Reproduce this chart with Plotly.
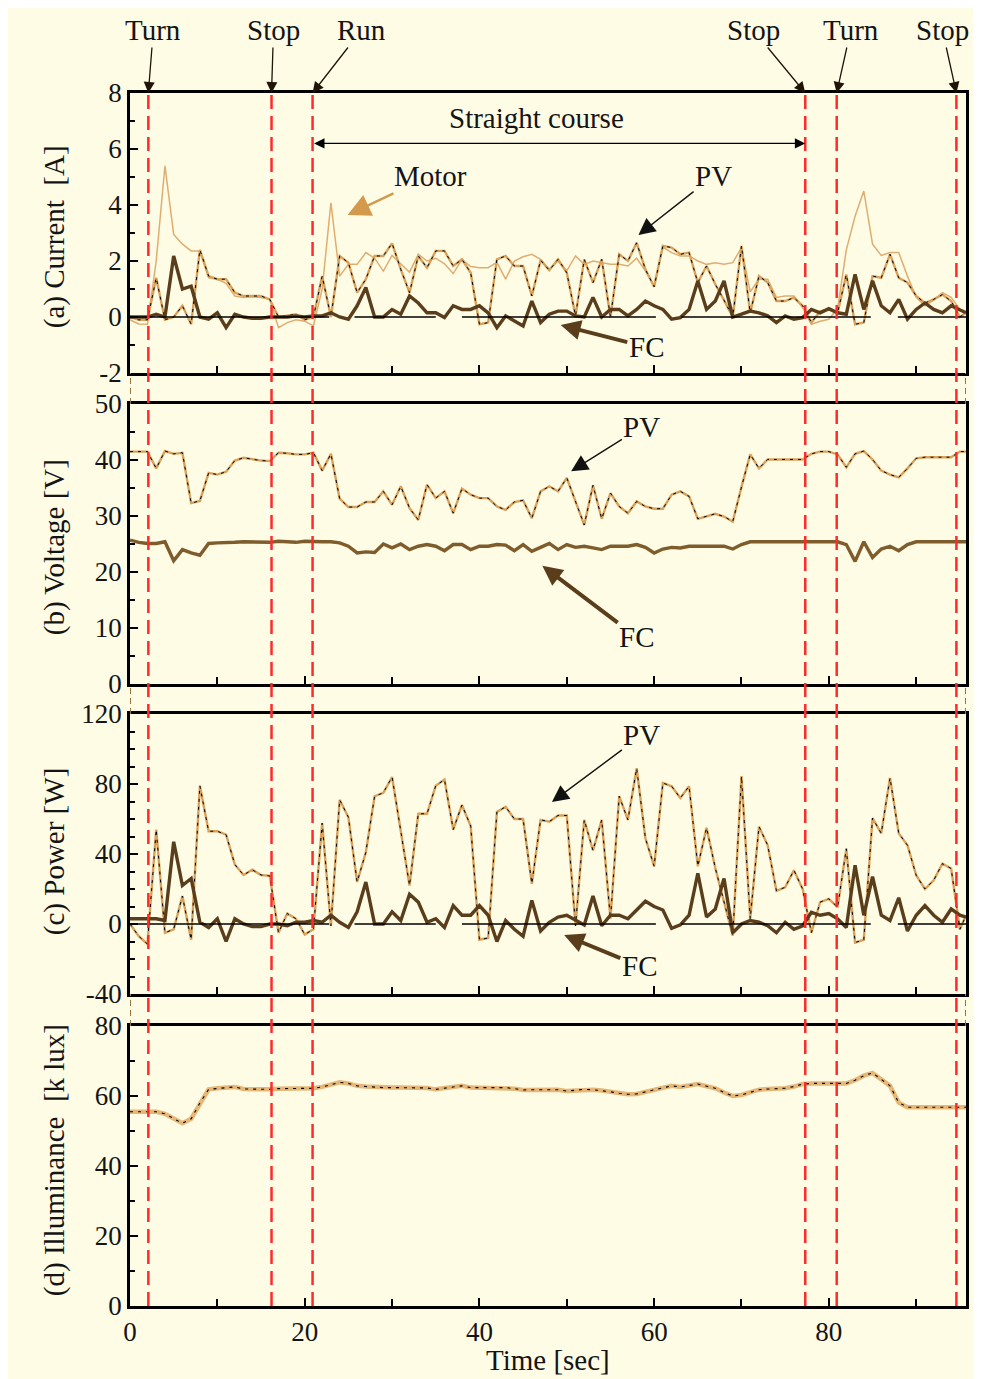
import plotly.graph_objects as go

# ---------------- data ----------------
TIME = list(range(96)) + [95.7]

MOTOR_CURRENT = [-0.1, -0.25, -0.26, 2.0, 5.4, 2.95, 2.6, 2.36, 2.36, 1.4,
                 1.35, 1.2, 0.75, 0.7, 0.72, 0.7, 0.63, -0.38, -0.2, -0.1,
                 -0.15, -0.32, 1.0, 4.08, 1.46, 1.88, 1.88, 2.3, 2.1, 1.64,
                 2.2, 1.9, 1.6, 2.24, 2.0, 2.1, 1.9, 1.55, 2.06, 1.8,
                 1.76, 1.76, 1.95, 1.35, 2.0, 2.15, 2.24, 2.06, 1.7, 2.0,
                 1.65, 2.18, 1.88, 2.0, 1.95, 1.88, 1.88, 1.82, 2.1, 1.65,
                 1.1, 2.5, 2.3, 2.18, 2.18, 2.0, 1.88, 1.94, 1.88, 1.94,
                 2.48, 0.9, 1.35, 1.35, 0.7, 0.75, 0.75, 0.33, -0.26, -0.15,
                 -0.08, 0.3, 2.4, 3.6, 4.5, 2.6, 2.2, 2.3, 2.3, 1.46,
                 0.7, 0.4, 0.6, 0.87, 0.7, 0.27, 0.2]

PV_CURRENT = [0, -0.1, -0.1, 1.4, -0.1, 0, 0.4, -0.26, 2.4, 1.46,
              1.35, 1.35, 0.87, 0.75, 0.75, 0.75, 0.63, 0, 0.05, 0.1,
              -0.1, 0, 1.46, 0, 2.18, 1.94, 0.87, 1.35, 2.18, 2.18,
              2.63, 1.7, 0.87, 2.18, 1.76, 2.36, 2.36, 1.82, 2.06, 1.58,
              -0.26, -0.2, 2.06, 2.18, 1.82, 1.82, 0.75, 2.03, 1.67, 2.06,
              1.58, 0.04, 2.06, 1.23, 2.06, 0, 2.24, 2.0, 2.65, 1.7,
              1.08, 2.54, 2.48, 2.24, 2.3, 1.23, 1.82, 1.17, 0.6, 0,
              2.54, 0.15, 1.46, 1.23, 0.57, 0.57, 0.69, 0.4, -0.2, 0.2,
              0.27, 0.15, 1.52, -0.26, -0.2, 1.46, 1.4, 2.24, 1.4, 1.23,
              0.75, 0.5, 0.63, 0.8, 0.57, 0, 0.15]

FC_CURRENT = [0, 0, 0, 0.1, 0, 2.18, 1.0, 1.1, 0, -0.08,
              0.15, -0.38, 0.1, 0, -0.05, -0.05, 0, 0, 0, 0.04,
              0, 0.04, 0.04, 0.15, 0, -0.08, 0.4, 1.05, 0, 0,
              0.27, 0.1, 0.75, 0.5, 0.15, 0.15, -0.02, 0.4, 0.27, 0.27,
              0.4, 0.15, -0.38, 0.04, -0.14, -0.32, 0.57, -0.2, 0.1, 0.21,
              0.21, 0.04, 0, 0.7, 0, 0.27, 0.27, 0.04, 0.27, 0.57,
              0.4, 0.27, -0.08, -0.02, 0.27, 1.29, 0.27, 0.57, 1.29, 0,
              0.1, 0.21, 0.15, 0.04, -0.2, 0.04, -0.08, -0.02, 0.27, 0.15,
              0.3, 0.15, 0.1, 1.52, 0.27, 1.29, 0.4, 0.15, 0.63, -0.08,
              0.27, 0.5, 0.27, 0.15, 0.4, 0.27, 0.15]

PV_VOLTAGE = [41.5, 41.5, 41.5, 38.5, 41.6, 41.1, 41.3, 32.3, 32.7, 37.7,
              37.4, 37.9, 39.9, 40.4, 40.1, 39.9, 39.8, 41.3, 41.2, 41.0,
              41.0, 41.3, 38.1, 41.1, 33.1, 31.6, 31.6, 32.5, 32.5, 34.4,
              32.0, 35.3, 31.4, 29.3, 35.6, 33.2, 34.4, 30.5, 34.9, 33.8,
              33.2, 33.2, 31.7, 31.1, 32.5, 32.8, 29.6, 34.4, 35.3, 34.4,
              36.8, 32.6, 28.4, 35.5, 29.5, 34.1, 31.7, 30.5, 32.6, 31.7,
              31.3, 31.3, 33.8, 34.4, 33.5, 29.5, 29.9, 30.4, 29.9, 29.0,
              35.2, 41.0, 38.5, 40.1, 40.1, 40.1, 40.1, 40.1, 41.1, 41.5,
              41.5, 41.0, 38.7, 41.1, 41.6, 40.1, 38.1, 37.4, 36.9, 38.5,
              40.3, 40.5, 40.5, 40.5, 40.5, 41.5, 41.5]

FC_VOLTAGE = [25.7, 25.3, 25.1, 25.1, 25.4, 22.0, 24.0, 23.4, 23.0, 25.1,
              25.2, 25.2, 25.3, 25.4, 25.4, 25.4, 25.3, 25.5, 25.4, 25.3,
              25.5, 25.4, 25.4, 25.4, 25.2, 24.6, 23.4, 23.6, 23.5, 25.0,
              24.3, 25.0, 24.0, 24.6, 24.9, 24.6, 23.8, 24.9, 24.9, 24.0,
              24.6, 24.6, 24.9, 24.8, 23.8, 24.9, 23.7, 24.4, 25.1, 24.0,
              24.9, 24.4, 24.6, 24.3, 24.0, 24.6, 24.6, 24.6, 24.9, 24.4,
              23.4, 24.1, 24.4, 24.3, 24.6, 24.6, 24.7, 24.7, 24.6, 24.1,
              24.9, 25.4, 25.4, 25.4, 25.4, 25.4, 25.4, 25.4, 25.4, 25.4,
              25.4, 25.4, 24.9, 21.9, 25.4, 22.6, 24.1, 24.6, 23.8, 24.9,
              25.4, 25.4, 25.4, 25.4, 25.4, 25.4, 25.4]

PV_POWER = [0, -7, -11.5, 54, -5, -3, 16, -9, 79, 53,
            53, 51, 34, 28, 31, 28, 27.5, -5, 6, 3,
            -6, -3, 57.6, -1, 71, 61, 24, 41, 73, 75,
            84, 53, 22, 63, 63, 79, 82.5, 54, 68, 56,
            -9, -8, 64, 67, 60, 60, 23, 59.5, 58.5, 62,
            62, -1, 59.5, 42, 59.5, 3, 73, 59.5, 89, 49,
            33, 80.6, 78.7, 72, 78.7, 33, 55, 32, 12, -6.7,
            84.5, 3, 55.7, 45, 19, 21, 30.7, 20, -5, 12.5,
            14.4, 9.6, 43, -10.6, -9, 60.5, 51.8, 83.5, 51.8, 45,
            27.8, 20, 25, 34.5, 31.7, -3, 4.8]

FC_POWER = [3, 3, 3, 3, 2, 47, 22, 26, 1, -2,
            3, -10, 3, 0, -1.5, -1.5, 0, 0, -1, 1,
            1, 2, 1, 5, 1, -2, 7, 24, 0, 0,
            7, 2, 17, 12.5, 1, 3, -2, 10.5, 5, 5,
            10.5, 5, -10, 2, -3, -7, 13.5, -4, 1, 4,
            5, 2, -0.5, 16, -1, 5, 5, 3, 8, 13,
            10, 8, -2.5, -0.5, 5, 29, 4, 8.6, 26, -5,
            0, 2, 1, -1, -5, 1, -3, -1, 6.7, 5,
            6, 3, -2, 33.6, 5, 27, 5, 2, 15, -4,
            5, 10.5, 5, 1, 8.6, 5, 4]

ILLUMINANCE = [55.5, 55.5, 55.5, 55.5, 54.9, 53.5, 52.2, 53.5, 58.0, 61.9,
               62.2, 62.4, 62.6, 62.0, 61.9, 61.9, 61.9, 62.1, 62.1, 62.1,
               62.1, 62.2, 62.6, 63.3, 63.9, 63.6, 62.9, 62.7, 62.5, 62.4,
               62.4, 62.4, 62.4, 62.4, 62.3, 61.9, 62.3, 62.7, 62.9, 62.4,
               62.4, 62.4, 62.4, 62.4, 62.1, 61.7, 61.8, 61.8, 61.8, 61.8,
               61.4, 61.6, 61.9, 61.8, 61.6, 61.2, 60.8, 60.5, 60.6, 61.2,
               61.9, 62.5, 62.9, 62.6, 63.0, 63.4, 62.8, 62.2, 61.0, 60.0,
               60.3, 61.0, 61.8, 62.0, 62.1, 62.2, 62.7, 63.4, 63.6, 63.6,
               63.6, 63.6, 63.6, 64.5, 65.8, 66.6, 64.8, 62.9, 58.1, 56.8,
               56.8, 56.8, 56.8, 56.8, 56.8, 56.8, 56.8]

# time spans where the thin black zero reference is drawn
ZERO_SEGMENTS = [(0, 22.8), (25.7, 35.0), (38.0, 60.2), (63.1, 84.8), (87.9, 95.7)]

EVENT_TIMES = [2.1, 16.2, 20.9, 77.3, 80.9, 94.6]
EVENT_LABELS = ["Turn", "Stop", "Run", "Stop", "Turn", "Stop"]

STRAIGHT_START, STRAIGHT_END = 20.9, 77.3

X_MAX = 95.7

# tick labels (hyphen minus as in the original)
A_TICKS = [-2, 0, 2, 4, 6, 8]
A_LABELS = ["-2", "0", "2", "4", "6", "8"]
C_TICKS = [-40, 0, 40, 80, 120]
C_LABELS = ["-40", "0", "40", "80", "120"]

# ---------------- styling ----------------
FONT = "Liberation Serif"
TXT = "#141414"
TAN = "#D8A25C"
MOTOR_C = "#DDA564"
FC_DARK = "#5A3E1C"
FC_B = "#7E5C2C"
ILLUM_C = "#E6B776"
RED = "#FF2B2B"
CREAM = "#FFFCE6"

fig = go.Figure()

zx, zy = [], []
for s, e in ZERO_SEGMENTS:
    zx += [s, e, None]
    zy += [0, 0, None]


def line(x, y, xa, ya, color, width, dash="solid", opacity=1.0):
    fig.add_trace(go.Scatter(x=x, y=y, xaxis=xa, yaxis=ya, mode="lines",
                             line=dict(color=color, width=width, dash=dash),
                             opacity=opacity, hoverinfo="skip", showlegend=False,
                             connectgaps=False))


OVERLAY_DASH = "3px,5px"

# (a) current
line(TIME, MOTOR_CURRENT, "x", "y", MOTOR_C, 1.5, opacity=0.9)
line(TIME, PV_CURRENT, "x", "y", TAN, 2.4)
line(TIME, PV_CURRENT, "x", "y", "#000000", 1.0, OVERLAY_DASH)
line(TIME, FC_CURRENT, "x", "y", FC_DARK, 3.4)
line(zx, zy, "x", "y", "#000000", 1.6)

# (b) voltage
line(TIME, PV_VOLTAGE, "x2", "y2", TAN, 2.4)
line(TIME, PV_VOLTAGE, "x2", "y2", "#000000", 1.0, OVERLAY_DASH)
line(TIME, FC_VOLTAGE, "x2", "y2", FC_B, 3.4)

# (c) power
line(TIME, PV_POWER, "x3", "y3", TAN, 2.4)
line(TIME, PV_POWER, "x3", "y3", "#000000", 1.0, OVERLAY_DASH)
line(TIME, FC_POWER, "x3", "y3", FC_DARK, 3.4)
line(zx, zy, "x3", "y3", "#000000", 1.6)

# (d) illuminance
line(TIME, ILLUMINANCE, "x4", "y4", ILLUM_C, 4.5)
line(TIME, ILLUMINANCE, "x4", "y4", "#000000", 1.1, OVERLAY_DASH)

# ---------------- axes ----------------
# page is offset by the 8px body margin; geometry below is in page pixels
H_PLOT = 1213.0


def dom(top_px, bot_px):
    return [(1306 - bot_px) / H_PLOT, (1306 - top_px) / H_PLOT]


DOMAINS = {"a": dom(93, 373), "b": dom(404, 684), "c": dom(714, 994), "d": dom(1026, 1306)}

tickfont = dict(family=FONT, size=27, color=TXT)

common_x = dict(range=[0, X_MAX], showgrid=False, zeroline=False, showline=True,
                linecolor="black", linewidth=2.6, mirror=True, ticks="inside",
                ticklen=8, tickwidth=2, tickcolor="black", dtick=20, tick0=0,
                minor=dict(dtick=10, ticks="inside", ticklen=7, tickwidth=2, tickcolor="black"),
                tickfont=tickfont)


def yax(rng, dtick, minor, domain, anchor, tickvals=None, ticktext=None):
    d = dict(range=rng, dtick=dtick, tick0=rng[0], domain=domain, anchor=anchor,
             showgrid=False, zeroline=False, showline=True, linecolor="black",
             linewidth=2.6, mirror=True, ticks="inside", ticklen=8, tickwidth=2,
             tickcolor="black", tickfont=tickfont,
             minor=dict(dtick=minor, tick0=rng[0], ticks="inside", ticklen=5,
                        tickwidth=2, tickcolor="black"))
    if tickvals is not None:
        d.update(tickmode="array", tickvals=tickvals, ticktext=ticktext)
    return d


fig.update_layout(
    xaxis=dict(common_x, anchor="y", showticklabels=False),
    xaxis2=dict(common_x, anchor="y2", showticklabels=False, matches="x"),
    xaxis3=dict(common_x, anchor="y3", showticklabels=False, matches="x"),
    xaxis4=dict(common_x, anchor="y4", showticklabels=True, matches="x"),
    yaxis=yax([-2, 8], 2, 1, DOMAINS["a"], "x", A_TICKS, A_LABELS),
    yaxis2=yax([0, 50], 10, 5, DOMAINS["b"], "x2"),
    yaxis3=yax([-40, 120], 40, 10, DOMAINS["c"], "x3", C_TICKS, C_LABELS),
    yaxis4=yax([0, 80], 20, 10, DOMAINS["d"], "x4"),
)

# ---------------- shapes ----------------
shapes = []


def px_x(p):
    return (p - 130) / 838.0


def px_y(p):
    return (1306 - p) / H_PLOT


for t in EVENT_TIMES:
    shapes.append(dict(type="line", xref="x", yref="paper", x0=t, x1=t, y0=0, y1=1,
                       line=dict(color=RED, width=2.5, dash="14px,7px"), layer="above"))

# broken-axis marks in the gaps between panels
gaps = [(373, 404), (684, 714), (994, 1026)]
for g0, g1 in gaps:
    for xv in (0, X_MAX):
        shapes.append(dict(type="line", xref="x", yref="paper", x0=xv, x1=xv,
                           y0=px_y(g1), y1=px_y(g0),
                           line=dict(color="#9C7440", width=2, dash="6px,4px")))

fig.update_layout(shapes=shapes)

# ---------------- annotations ----------------
ann = []
afont = dict(family=FONT, size=29, color=TXT)

top_offsets = [5, 2, 49, -52, 14, -14]
for t, lab, dx in zip(EVENT_TIMES, EVENT_LABELS, top_offsets):
    ann.append(dict(x=t, y=8, xref="x", yref="y", text=lab, showarrow=True,
                    ax=dx, ay=-63, arrowhead=2, arrowsize=1.7, arrowwidth=1.3,
                    arrowcolor="#1e1408", standoff=0, font=afont))

# straight course double arrow
ann.append(dict(x=STRAIGHT_END, y=6.2, xref="x", yref="y", ax=STRAIGHT_START, ay=6.2,
                axref="x", ayref="y", text="", showarrow=True, arrowside="end+start",
                arrowhead=2, arrowsize=1.6, arrowwidth=1.3, arrowcolor="black", standoff=0,
                startstandoff=0))
ann.append(dict(x=46.5, y=7.1, xref="x", yref="y", text="Straight course",
                showarrow=False, font=afont))


def pointer(text, tx, ty, hx, hy, xa, ya, color, width, size):
    ann.append(dict(x=hx, y=hy, xref=xa, yref=ya, ax=tx, ay=ty, axref=xa, ayref=ya,
                    text=text, showarrow=True, arrowhead=2, arrowsize=size,
                    arrowwidth=width, arrowcolor=color, standoff=0, font=afont))


pointer("Motor", 34.4, 5.04, 24.9, 3.64, "x", "y", "#D39A4E", 2.4, 1.9)
pointer("PV", 66.8, 5.04, 58.2, 2.93, "x", "y", "#111111", 1.4, 2.4)
pointer("FC", 59.1, -1.07, 49.3, -0.29, "x", "y", FC_DARK, 4, 1.0)
pointer("PV", 58.6, 45.9, 50.5, 38.0, "x2", "y2", "#111111", 1.4, 2.4)
pointer("FC", 58.0, 8.4, 47.2, 21.1, "x2", "y2", FC_DARK, 4, 1.0)
pointer("PV", 58.6, 108, 48.3, 69.7, "x3", "y3", "#111111", 1.4, 2.4)
pointer("FC", 58.3, -24, 49.7, -6.3, "x3", "y3", FC_DARK, 4, 1.0)

# axis titles
ytitles = [("(a) Current  [A]", 237), ("(b) Voltage [V]", 547),
           ("(c) Power [W]", 852), ("(d) Illuminance  [k lux]", 1160)]
for txt, py in ytitles:
    ann.append(dict(x=px_x(54), y=px_y(py), xref="paper", yref="paper", text=txt,
                    textangle=-90, showarrow=False, font=afont,
                    xanchor="center", yanchor="middle"))
ann.append(dict(x=px_x(549), y=px_y(1360), xref="paper", yref="paper", text="Time [sec]",
                showarrow=False, font=afont, xanchor="center", yanchor="middle"))

# figure is drawn 8px in from the page's top-left corner (body margin)
OFF = 8
fig.update_layout(
    annotations=ann,
    width=981 - OFF, height=1379 - OFF,
    margin=dict(l=130 - OFF, r=981 - 968, t=93 - OFF, b=1379 - 1306),
    paper_bgcolor=CREAM,
    plot_bgcolor=CREAM,
    showlegend=False,
    font=dict(family=FONT, color=TXT),
)

fig.write_html("out.html")
